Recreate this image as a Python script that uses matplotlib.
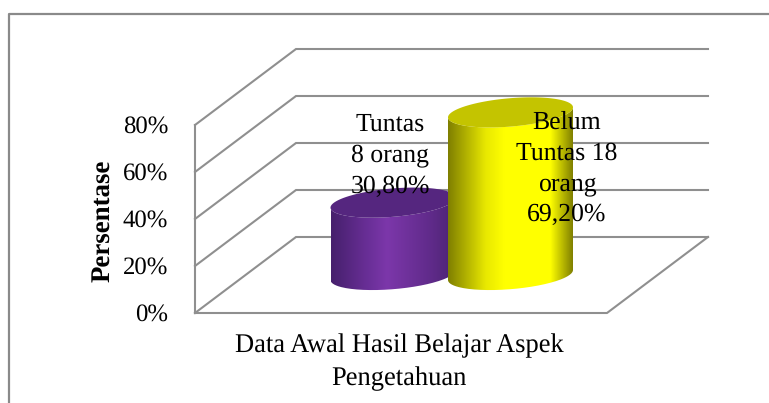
import numpy as np
import matplotlib
matplotlib.use('Agg')
import matplotlib.pyplot as plt
from matplotlib.colors import LinearSegmentedColormap
from matplotlib.patches import PathPatch, Polygon
from matplotlib.path import Path

plt.rcParams['font.family'] = ['Liberation Serif', 'DejaVu Serif']
plt.rcParams['text.hinting'] = 'none'

# chart data
series_values = [30.8, 69.2]
series_labels = ['Tuntas\n8 orang\n30,80%', 'Belum\nTuntas 18\norang\n69,20%']
tick_values = [0, 20, 40, 60, 80]
tick_labels = ['0%', '20%', '40%', '60%', '80%']
y_title = 'Persentase'
x_title = 'Data Awal Hasil Belajar Aspek\nPengetahuan'

# colours: edge, middle, top of each cylinder
body_colors = [['#46206c', '#6a2f98', '#7c37aa', '#5e2a88', '#4a2372'],
               ['#7f7f00', '#e8e800', '#ffff00', '#ffff00', '#808000']]
top_colors = ['#55267f', '#c4c400']
grid_color = '#8f8f8f'

# layout of the fake 3d box, in pixels
front_x, back_x, right_front_x = 195, 296, 607
right_back_x = 708
front_base, back_base = 313, 237
px_per_unit = 188 / 80

cyl_x = [393, 510.5]
cyl_base = 275
cyl_a, cyl_b, cyl_k = 62.5, 14.2, -5
label_pos = [(390, 131), (567, 129)]  # centre x, first baseline
label_pitch = 30.8


def front_y(v):
    return front_base - v * px_per_unit


def back_y(v):
    return back_base - v * px_per_unit


def ellipse_pts(cx, cy, t):
    return np.column_stack([cx + cyl_a * np.cos(t),
                            cy + cyl_b * np.sin(t) + cyl_k * np.cos(t)])


def draw_cylinder(ax, cx, value, colors, top_color, z):
    top = cyl_base - value * px_per_unit
    # y axis points down here so sin>0 is the front of the ellipse
    t_front = np.linspace(0, np.pi, 80)
    lower = ellipse_pts(cx, cyl_base, t_front)
    upper = ellipse_pts(cx, top, t_front[::-1])
    body = np.vstack([lower, upper, lower[:1]])
    cmap = LinearSegmentedColormap.from_list('c', list(zip([0, 0.3, 0.45, 0.82, 1], colors)))
    grad = np.linspace(0, 1, 256).reshape(1, -1)
    im = ax.imshow(grad, cmap=cmap, aspect='auto', zorder=z,
                   extent=(cx - cyl_a, cx + cyl_a, cyl_base + 20, top - 20), interpolation='bilinear')
    patch = PathPatch(Path(body), transform=ax.transData, fc='none', ec='none')
    ax.add_patch(patch)
    im.set_clip_path(patch)
    t_all = np.linspace(0, 2 * np.pi, 160)
    ax.add_patch(Polygon(ellipse_pts(cx, top, t_all), closed=True, fc=top_color, ec='none', zorder=z + 0.1))


fig = plt.figure(figsize=(7.69, 4.03), dpi=100)
ax = fig.add_axes([0, 0, 1, 1])
ax.set_xlim(0, 769)
ax.set_ylim(403, 0)
ax.axis('off')

# outer chart frame, open on the right and bottom
ax.plot([8.5, 8.5, 769], [403, 14, 14], color='#8a8a8a', lw=1.6, solid_capstyle='butt', zorder=1)

# wall and floor grid
for v in tick_values:
    ax.plot([front_x, back_x, right_back_x], [front_y(v), back_y(v), back_y(v)],
            color=grid_color, lw=1.5, zorder=2, solid_joinstyle='miter')
ax.plot([front_x, front_x], [front_y(80), front_y(0)], color=grid_color, lw=1.5, zorder=2)
ax.plot([front_x, right_front_x, right_back_x], [front_y(0), front_y(0), back_y(0)],
        color=grid_color, lw=1.5, zorder=2)

for i, (cx, val) in enumerate(zip(cyl_x, series_values)):
    draw_cylinder(ax, cx, val, body_colors[i], top_colors[i], 3 + i)

# data labels, one line at a time to hold the line pitch
for pos, lab in zip(label_pos, series_labels):
    for j, line in enumerate(lab.split('\n')):
        ax.text(pos[0], pos[1] + j * label_pitch, line, fontsize=18.5, ha='center', va='baseline',
                color='black', zorder=8)

for v, lab in zip(tick_values, tick_labels):
    ax.text(168, front_y(v) + 8, lab, fontsize=17.8, ha='right', va='baseline', color='black')

ax.text(103, 221, y_title, fontsize=19.4, fontweight='bold', rotation=90, ha='center', va='center', color='black')
ax.text(399, 352, x_title.split('\n')[0], fontsize=19.1, ha='center', va='baseline', color='black')
ax.text(399, 385, x_title.split('\n')[1], fontsize=19.1, ha='center', va='baseline', color='black')

fig.savefig('out.png', dpi=100)
